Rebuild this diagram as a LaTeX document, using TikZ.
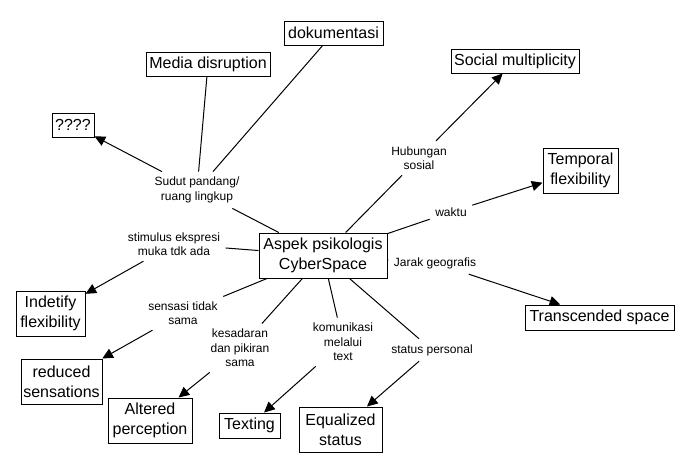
\documentclass[tikz,border=0pt]{standalone}
\usepackage{fontspec}
\setmainfont{Liberation Sans}
\usetikzlibrary{arrows.meta}
\begin{document}
\begin{tikzpicture}[x=0.75pt,y=-0.75pt,
  box/.style={draw,line width=0.75pt,align=center,inner sep=0pt,font=\fontsize{12}{14.8}\selectfont},
  lab/.style={align=center,inner sep=4pt,font=\fontsize{9}{10.8}\selectfont},
  ln/.style={line width=0.75pt},
  arr/.style={ln,-{Triangle[length=8pt,width=7.5pt]}}]
\useasboundingbox (0,0) rectangle (683,472);
\fill[white] (0,0) rectangle (683,472);
% boxes
\node[box,minimum width={128*0.75pt},minimum height={45*0.75pt}] (c) at (323,255.5) {Aspek psikologis\\CyberSpace};
\node[box,minimum width={99*0.75pt},minimum height={24*0.75pt}] (dok) at (333.5,33) {dokumentasi};
\node[box,minimum width={124*0.75pt},minimum height={24*0.75pt}] (med) at (208,64) {Media disruption};
\node[box,minimum width={42*0.75pt},minimum height={24*0.75pt}] (q) at (73,125) {????};
\node[box,minimum width={128*0.75pt},minimum height={24*0.75pt}] (soc) at (515,61) {Social multiplicity};
\node[box,minimum width={75*0.75pt},minimum height={45*0.75pt}] (tem) at (580.5,170.5) {Temporal\\flexibility};
\node[box,minimum width={149*0.75pt},minimum height={25*0.75pt}] (tra) at (599.5,317.5) {Transcended space};
\node[box,minimum width={83*0.75pt},minimum height={45*0.75pt}] (equ) at (340.5,429.5) {Equalized\\status};
\node[box,minimum width={61*0.75pt},minimum height={25*0.75pt}] (txt) at (249.5,425.5) {Texting};
\node[box,minimum width={84*0.75pt},minimum height={45*0.75pt}] (alt) at (150,420.5) {Altered\\perception};
\node[box,minimum width={81*0.75pt},minimum height={45*0.75pt}] (red) at (61.5,381.5) {reduced\\sensations};
\node[box,minimum width={69*0.75pt},minimum height={45*0.75pt}] (ind) at (50.5,313.5) {Indetify\\flexibility};
% labels
\node[lab] (lsud) at (197,190) {Sudut pandang/\\ruang lingkup};
\node[lab] (lsti) at (174,244) {stimulus ekspresi\\muka tdk ada};
\node[lab] (lsen) at (183,313) {sensasi tidak\\sama};
\node[lab] (lkes) at (240,348) {kesadaran\\dan pikiran\\sama};
\node[lab] (lkom) at (343,342) {komunikasi\\melalui\\text};
\node[lab] (lsta) at (432,350) {status personal};
\node[lab] (ljar) at (435,263) {Jarak geografis};
\node[lab] (lwak) at (451,212) {waktu};
\node[lab] (lhub) at (419,158) {Hubungan\\sosial};
% connectors
\draw[ln] (c) -- (lsud);
\draw[arr] (lsud) -- (q);
\draw[ln] (lsud) -- (med);
\draw[ln] (lsud) -- (dok);
\draw[ln] (c) -- (lhub);
\draw[arr] (lhub) -- (soc);
\draw[ln] (c) -- (lwak);
\draw[arr] (lwak) -- (tem);
\draw[ln] (c) -- (ljar);
\draw[arr] (ljar) -- (tra);
\draw[ln] (c) -- (lsta);
\draw[arr] (lsta) -- (equ);
\draw[ln] (c) -- (lkom);
\draw[arr] (lkom) -- (txt);
\draw[ln] (c) -- (lkes);
\draw[arr] (lkes) -- (alt);
\draw[ln] (c) -- (lsen);
\draw[arr] (lsen) -- (red);
\draw[ln] (c) -- (lsti);
\draw[arr] (lsti) -- (ind);
\end{tikzpicture}
\end{document}
